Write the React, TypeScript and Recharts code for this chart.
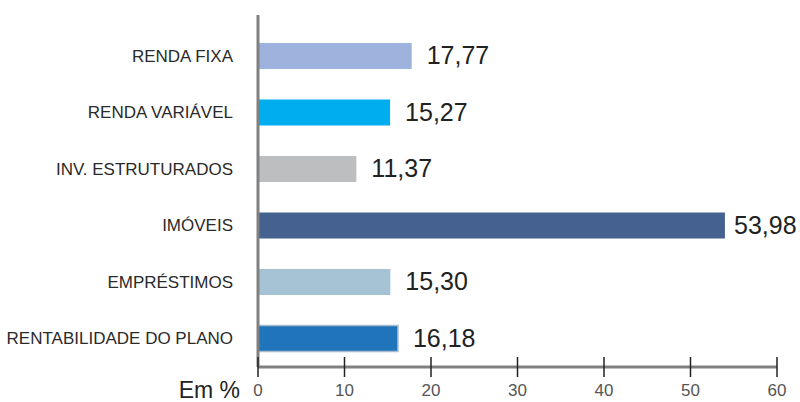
import { BarChart, Bar, XAxis, YAxis, Cell, LabelList } from "recharts";

const categories = [
  "RENDA FIXA",
  "RENDA VARIÁVEL",
  "INV. ESTRUTURADOS",
  "IMÓVEIS",
  "EMPRÉSTIMOS",
  "RENTABILIDADE DO PLANO",
];
const values = [17.77, 15.27, 11.37, 53.98, 15.3, 16.18];
const colors = ["#9db3dd", "#00aeef", "#bdbec0", "#456190", "#a6c3d6", "#1f74ba"];
const xTicks = [0, 10, 20, 30, 40, 50, 60];

const data = categories.map((name, i) => ({ name, value: values[i], color: colors[i] }));

const FONT = "'Liberation Sans', Arial, sans-serif";

function CategoryTick({ x, y, payload }: any) {
  return (
    <text
      x={x - 17}
      y={y}
      textAnchor="end"
      dominantBaseline="central"
      fontFamily={FONT}
      fontSize={17}
      fill="#2a2a2a"
    >
      {payload.value}
    </text>
  );
}

// tick y arrives a few px below the axis line; draw a tick crossing the line
function ValueTick({ x, y, payload }: any) {
  const axisY = y - 8;
  return (
    <g>
      <line x1={x} x2={x} y1={axisY - 10} y2={axisY + 10} stroke="#222" strokeWidth={1.5} />
      <text
        x={x}
        y={axisY + 23}
        textAnchor="middle"
        dominantBaseline="central"
        fontFamily={FONT}
        fontSize={17}
        fill="#555"
      >
        {payload.value}
      </text>
    </g>
  );
}

const fmt = (v: any) => Number(v).toFixed(2).replace(".", ",");

function ValueLabel({ x, y, width, height, value }: any) {
  // keep the long bar's label inside the picture
  const tx = Math.min(x + width + 15, 734);
  return (
    <text
      x={tx}
      y={y + height / 2 - 1}
      dominantBaseline="central"
      fontFamily={FONT}
      fontSize={25}
      fill="#222"
    >
      {fmt(value)}
    </text>
  );
}

export default function App() {
  return (
    <div style={{ position: "absolute", left: 0, top: 0, width: 800, height: 402, background: "#fff" }}>
      <BarChart
        width={800}
        height={402}
        data={data}
        layout="vertical"
        margin={{ top: 15, right: 23, bottom: 0, left: 0 }}
      >
        <XAxis
          type="number"
          domain={[0, 60]}
          ticks={xTicks}
          interval={0}
          height={35}
          axisLine={{ stroke: "#808080", strokeWidth: 3 }}
          tickLine={false}
          tick={<ValueTick />}
          label={{
            content: () => (
              <text
                x={240}
                y={390}
                textAnchor="end"
                dominantBaseline="central"
                fontFamily={FONT}
                fontSize={23}
                fill="#222"
              >
                Em %
              </text>
            ),
          }}
        />
        <YAxis
          type="category"
          dataKey="name"
          width={258}
          padding={{ top: 13, bottom: 0 }}
          axisLine={{ stroke: "#808080", strokeWidth: 3 }}
          tickLine={false}
          tick={<CategoryTick />}
          interval={0}
        />
        <Bar dataKey="value" barSize={26} isAnimationActive={false}>
          {data.map((d, i) => (
            <Cell
              key={d.name}
              fill={d.color}
              stroke={i === data.length - 1 ? "#a9bccb" : "none"}
              strokeWidth={i === data.length - 1 ? 1.5 : 0}
            />
          ))}
          <LabelList dataKey="value" content={<ValueLabel />} />
        </Bar>
      </BarChart>
    </div>
  );
}
